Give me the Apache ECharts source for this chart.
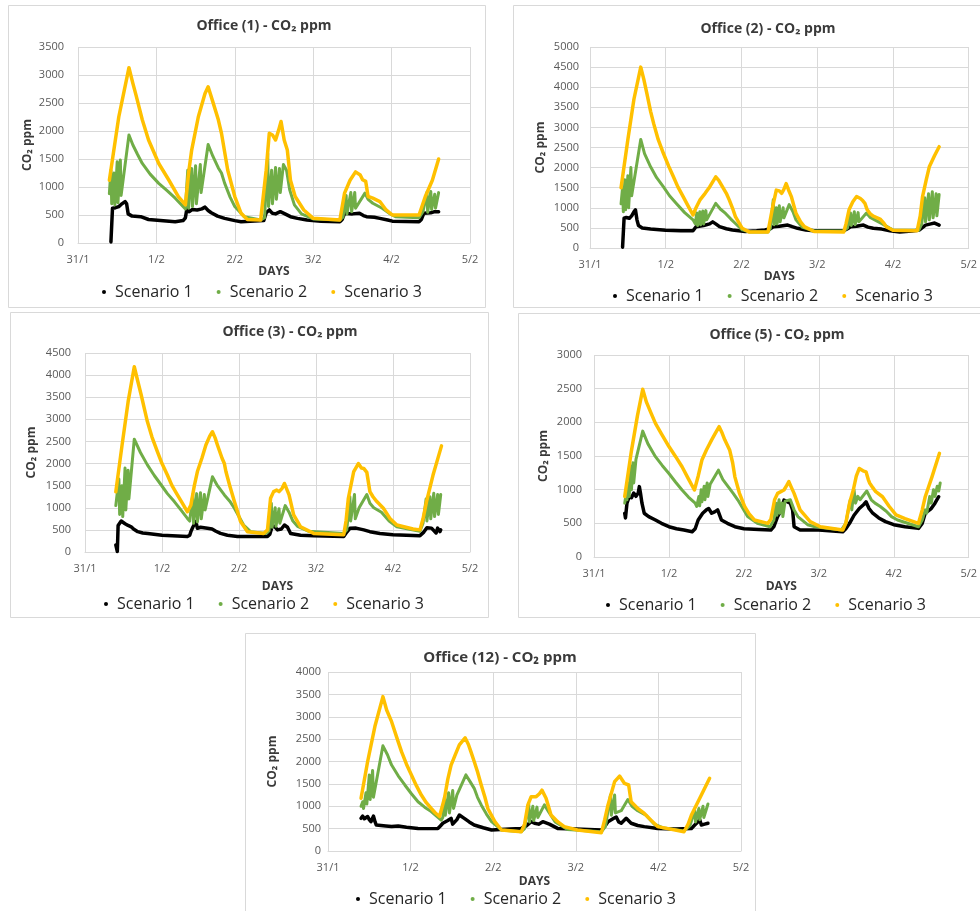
<!DOCTYPE html>
<html>
<head>
<meta charset="utf-8">
<script src="https://cdn.jsdelivr.net/npm/echarts@6/dist/echarts.min.js"></script>
<style>html,body{margin:0;padding:0;background:#fff;}#c{width:980px;height:911px;}</style>
</head>
<body>
<div id="c"></div>
<script>
// ---- data ----
const dayLabels = ['31/1', '1/2', '2/2', '3/2', '4/2', '5/2'];
const seriesNames = ['Scenario 1', 'Scenario 2', 'Scenario 3'];
const panelTitles = ['Office (1) - CO₂ ppm', 'Office (2) - CO₂ ppm', 'Office (3) - CO₂ ppm', 'Office (5) - CO₂ ppm', 'Office (12) - CO₂ ppm'];
const yMaxValues = [3500, 5000, 4500, 3000, 4000];

// Office (1)
const office1_s1 = [[0.42,20],[0.43,30],[0.44,620],[0.48,630],[0.52,650],[0.56,700],[0.60,740],[0.62,700],[0.64,520],[0.69,480],[0.80,470],[0.90,420],[1.05,400],[1.24,380],[1.34,400],[1.37,450],[1.39,620],[1.42,560],[1.46,600],[1.52,590],[1.58,610],[1.62,640],[1.66,580],[1.70,540],[1.78,480],[1.87,440],[2.00,400],[2.08,380],[2.37,400],[2.40,540],[2.44,590],[2.48,530],[2.52,520],[2.58,560],[2.64,520],[2.71,470],[2.80,440],[2.92,410],[3.10,390],[3.34,380],[3.37,420],[3.40,530],[3.50,520],[3.59,530],[3.64,490],[3.68,470],[3.78,460],[3.85,440],[3.95,410],[4.01,390],[4.35,380],[4.38,420],[4.41,530],[4.50,540],[4.55,560],[4.60,560]];
const office1_s2 = [[0.40,880],[0.42,1300],[0.43,700],[0.46,1250],[0.47,680],[0.50,1450],[0.51,720],[0.54,1480],[0.55,850],[0.65,1930],[0.70,1750],[0.76,1580],[0.82,1420],[0.92,1230],[1.03,1065],[1.14,930],[1.24,800],[1.37,610],[1.40,1300],[1.41,620],[1.45,1330],[1.46,650],[1.50,1380],[1.51,700],[1.56,1400],[1.57,900],[1.66,1760],[1.72,1550],[1.79,1340],[1.83,1250],[1.87,1070],[1.94,820],[2.00,650],[2.12,470],[2.33,410],[2.38,450],[2.42,1600],[2.43,650],[2.47,1300],[2.48,700],[2.52,1350],[2.53,780],[2.57,1330],[2.58,900],[2.62,1400],[2.66,1300],[2.70,950],[2.76,680],[2.85,520],[3.00,430],[3.34,410],[3.38,460],[3.42,850],[3.43,520],[3.48,900],[3.49,560],[3.53,900],[3.54,620],[3.66,890],[3.70,780],[3.76,710],[3.88,620],[3.97,530],[4.05,470],[4.35,450],[4.40,560],[4.45,900],[4.46,550],[4.50,920],[4.51,600],[4.55,870],[4.56,620],[4.60,900]];
const office1_s3 = [[0.40,1120],[0.52,2250],[0.65,3130],[0.70,2850],[0.74,2640],[0.82,2200],[0.90,1840],[1.03,1420],[1.16,1120],[1.28,830],[1.37,680],[1.41,1245],[1.45,1660],[1.535,2255],[1.62,2670],[1.66,2790],[1.72,2520],[1.79,2200],[1.83,1960],[1.91,1300],[2.00,830],[2.08,530],[2.16,420],[2.33,410],[2.40,1300],[2.44,1960],[2.48,1930],[2.52,1840],[2.56,2020],[2.59,2170],[2.63,1840],[2.67,1660],[2.71,1120],[2.77,830],[2.88,590],[3.00,440],[3.34,410],[3.40,890],[3.47,1120],[3.54,1270],[3.60,1215],[3.63,1130],[3.67,1100],[3.70,830],[3.76,800],[3.85,740],[3.93,590],[4.01,500],[4.35,500],[4.43,830],[4.52,1120],[4.60,1500]];

// Office (2)
const office2_s1 = [[0.43,20],[0.44,40],[0.45,740],[0.48,760],[0.52,740],[0.55,800],[0.58,900],[0.60,950],[0.62,700],[0.64,560],[0.69,500],[0.80,470],[0.88,460],[1.00,440],[1.20,430],[1.36,430],[1.40,530],[1.50,560],[1.58,600],[1.62,650],[1.66,600],[1.71,530],[1.80,480],[1.88,450],[2.05,410],[2.20,430],[2.31,450],[2.38,480],[2.42,530],[2.50,540],[2.61,570],[2.67,530],[2.74,490],[2.85,450],[2.96,430],[3.35,430],[3.40,480],[3.44,530],[3.52,540],[3.61,570],[3.67,520],[3.74,490],[3.85,470],[3.96,430],[4.09,400],[4.25,420],[4.35,450],[4.43,570],[4.50,600],[4.55,620],[4.61,570]];
const office2_s2 = [[0.41,1100],[0.43,1500],[0.44,900],[0.46,1700],[0.47,950],[0.50,1800],[0.51,1000],[0.54,2000],[0.55,1300],[0.67,2700],[0.72,2350],[0.80,2020],[0.88,1750],[0.97,1520],[1.05,1300],[1.14,1110],[1.25,880],[1.36,700],[1.39,600],[1.41,870],[1.42,560],[1.45,900],[1.46,580],[1.49,920],[1.50,600],[1.53,930],[1.54,700],[1.66,1110],[1.72,970],[1.79,860],[1.86,720],[1.92,610],[2.01,450],[2.10,400],[2.35,400],[2.38,480],[2.42,1200],[2.43,580],[2.46,1000],[2.47,600],[2.50,1050],[2.51,650],[2.55,1000],[2.56,750],[2.63,1080],[2.68,900],[2.72,700],[2.80,520],[2.95,430],[3.35,420],[3.40,500],[3.44,870],[3.45,560],[3.49,900],[3.50,580],[3.54,880],[3.55,650],[3.65,870],[3.70,760],[3.76,700],[3.86,600],[3.95,500],[4.00,450],[4.34,440],[4.38,600],[4.42,1250],[4.43,650],[4.47,1350],[4.48,700],[4.52,1400],[4.53,750],[4.57,1350],[4.58,800],[4.61,1330]];
const office2_s3 = [[0.41,1500],[0.50,2700],[0.58,3700],[0.67,4500],[0.71,4200],[0.75,3850],[0.80,3400],[0.84,3100],[0.90,2700],[0.97,2350],[1.04,2030],[1.10,1780],[1.16,1520],[1.23,1280],[1.30,1030],[1.36,820],[1.40,1000],[1.45,1190],[1.52,1360],[1.58,1520],[1.66,1770],[1.70,1680],[1.75,1520],[1.80,1360],[1.84,1190],[1.88,1000],[1.92,780],[2.01,490],[2.10,400],[2.35,400],[2.39,800],[2.42,1100],[2.46,1440],[2.50,1420],[2.53,1360],[2.56,1460],[2.59,1600],[2.62,1450],[2.66,1270],[2.72,860],[2.78,650],[2.83,530],[2.96,410],[3.35,400],[3.38,600],[3.42,950],[3.47,1150],[3.52,1280],[3.57,1230],[3.60,1180],[3.63,1110],[3.66,950],[3.70,850],[3.74,790],[3.83,720],[3.88,620],[3.91,530],[4.00,440],[4.32,430],[4.36,800],[4.39,1270],[4.44,1700],[4.48,2020],[4.55,2300],[4.61,2520]];

// Office (3)
const office3_s1 = [[0.40,160],[0.42,10],[0.43,600],[0.45,650],[0.47,700],[0.49,690],[0.52,640],[0.56,600],[0.60,570],[0.63,520],[0.685,460],[0.75,430],[0.815,420],[1.00,380],[1.20,360],[1.33,350],[1.36,380],[1.375,460],[1.40,560],[1.42,600],[1.44,690],[1.46,535],[1.50,560],[1.59,535],[1.65,520],[1.70,470],[1.76,420],[1.85,380],[1.98,350],[2.37,350],[2.40,400],[2.43,570],[2.46,580],[2.50,500],[2.55,520],[2.59,610],[2.63,560],[2.67,420],[2.80,380],[2.97,370],[3.36,350],[3.40,450],[3.44,535],[3.52,540],[3.62,500],[3.70,460],[3.83,420],[4.00,390],[4.35,370],[4.40,450],[4.44,550],[4.50,540],[4.52,520],[4.56,430],[4.58,540],[4.61,460],[4.62,500]];
const office3_s2 = [[0.40,1050],[0.44,1650],[0.45,850],[0.48,1500],[0.49,800],[0.52,1900],[0.53,950],[0.56,1850],[0.57,1200],[0.64,2550],[0.72,2250],[0.81,1970],[0.90,1730],[0.99,1515],[1.07,1320],[1.16,1140],[1.25,940],[1.33,760],[1.36,700],[1.40,1300],[1.41,650],[1.45,1320],[1.46,680],[1.50,1340],[1.51,750],[1.55,1300],[1.56,950],[1.655,1700],[1.72,1500],[1.81,1290],[1.88,1150],[1.94,990],[2.06,610],[2.15,460],[2.35,420],[2.39,480],[2.42,1100],[2.43,560],[2.47,1000],[2.48,580],[2.52,980],[2.53,650],[2.60,1050],[2.65,900],[2.70,700],[2.76,580],[2.90,470],[3.36,420],[3.40,500],[3.44,1250],[3.45,700],[3.50,1300],[3.51,750],[3.56,1000],[3.66,1300],[3.70,1100],[3.75,1000],[3.85,900],[3.95,700],[4.05,570],[4.20,520],[4.35,470],[4.39,650],[4.43,1200],[4.44,700],[4.48,1250],[4.49,750],[4.53,1330],[4.54,800],[4.58,1300],[4.59,850],[4.62,1300]];
const office3_s3 = [[0.40,1360],[0.48,2400],[0.56,3400],[0.64,4190],[0.68,3900],[0.73,3550],[0.77,3250],[0.81,2950],[0.87,2600],[0.94,2270],[1.00,2000],[1.07,1740],[1.13,1500],[1.20,1290],[1.27,1090],[1.33,910],[1.375,1060],[1.42,1500],[1.46,1820],[1.52,2130],[1.57,2420],[1.62,2620],[1.655,2720],[1.69,2580],[1.72,2420],[1.78,2120],[1.81,2000],[1.83,1820],[1.88,1500],[1.94,1140],[2.02,690],[2.11,460],[2.32,420],[2.37,500],[2.41,1215],[2.45,1365],[2.49,1400],[2.52,1365],[2.56,1440],[2.59,1550],[2.62,1420],[2.65,1290],[2.71,840],[2.80,570],[2.97,420],[3.36,390],[3.39,700],[3.42,1215],[3.49,1820],[3.55,2000],[3.59,1900],[3.62,1890],[3.66,1800],[3.68,1780],[3.70,1365],[3.74,1250],[3.79,1140],[3.875,990],[3.96,760],[4.05,610],[4.26,520],[4.35,500],[4.39,750],[4.435,1140],[4.52,1740],[4.58,2100],[4.63,2400]];

// Office (5)
const office5_s1 = [[0.41,650],[0.42,580],[0.44,800],[0.47,895],[0.50,880],[0.53,950],[0.56,900],[0.59,950],[0.605,1045],[0.62,950],[0.64,800],[0.67,650],[0.73,600],[0.82,550],[0.90,500],[1.00,450],[1.10,420],[1.20,400],[1.31,375],[1.35,420],[1.39,550],[1.45,650],[1.50,700],[1.53,720],[1.57,650],[1.61,670],[1.65,700],[1.70,550],[1.78,500],[1.88,450],[2.00,420],[2.20,410],[2.36,400],[2.40,450],[2.45,600],[2.50,700],[2.535,845],[2.58,820],[2.62,800],[2.65,700],[2.67,450],[2.75,400],[3.00,400],[3.32,375],[3.36,420],[3.41,500],[3.47,620],[3.54,720],[3.60,780],[3.63,820],[3.67,720],[3.72,650],[3.80,580],[3.89,525],[4.00,480],[4.15,450],[4.33,425],[4.38,500],[4.42,650],[4.50,720],[4.55,800],[4.60,895]];
const office5_s2 = [[0.41,800],[0.43,950],[0.44,850],[0.46,1100],[0.47,900],[0.49,1350],[0.50,1000],[0.52,1400],[0.53,1100],[0.56,1450],[0.65,1870],[0.72,1680],[0.82,1490],[0.91,1360],[1.00,1240],[1.09,1110],[1.175,995],[1.26,890],[1.35,800],[1.37,750],[1.40,900],[1.41,760],[1.43,1000],[1.44,820],[1.47,1050],[1.48,850],[1.51,1100],[1.52,900],[1.55,1080],[1.66,1290],[1.72,1150],[1.79,1045],[1.86,940],[1.92,845],[2.05,600],[2.18,500],[2.35,450],[2.40,550],[2.43,800],[2.44,620],[2.47,850],[2.48,650],[2.51,800],[2.52,600],[2.55,830],[2.62,850],[2.67,700],[2.72,600],[2.85,480],[2.95,450],[3.30,400],[3.36,500],[3.42,850],[3.44,700],[3.47,1000],[3.49,800],[3.52,900],[3.55,850],[3.64,980],[3.70,850],[3.75,800],[3.82,750],[3.90,680],[3.97,600],[4.05,550],[4.33,450],[4.38,550],[4.42,700],[4.44,650],[4.48,900],[4.50,800],[4.53,1000],[4.55,900],[4.58,1050],[4.60,980],[4.62,1100]];
const office5_s3 = [[0.41,900],[0.50,1580],[0.58,2100],[0.65,2490],[0.70,2300],[0.76,2140],[0.82,1985],[0.90,1830],[1.00,1640],[1.09,1490],[1.175,1340],[1.26,1160],[1.34,995],[1.39,1200],[1.44,1440],[1.50,1590],[1.57,1740],[1.62,1840],[1.67,1935],[1.71,1840],[1.745,1740],[1.78,1660],[1.81,1590],[1.85,1400],[1.88,1190],[1.94,950],[2.01,750],[2.07,640],[2.14,550],[2.32,500],[2.36,560],[2.41,850],[2.45,945],[2.535,995],[2.57,1060],[2.60,1120],[2.635,1030],[2.67,945],[2.75,700],[2.885,525],[3.02,450],[3.32,400],[3.36,500],[3.41,800],[3.46,995],[3.50,1200],[3.54,1315],[3.59,1280],[3.63,1265],[3.66,1150],[3.68,1095],[3.72,1030],[3.76,970],[3.85,895],[3.94,750],[4.03,625],[4.15,570],[4.33,500],[4.38,700],[4.42,895],[4.51,1190],[4.61,1540]];

// Office (12)
const office12_s1 = [[0.40,730],[0.42,780],[0.44,720],[0.46,760],[0.48,770],[0.50,700],[0.52,655],[0.55,780],[0.57,650],[0.585,580],[0.70,560],[0.77,545],[0.85,560],[0.95,530],[1.09,505],[1.20,500],[1.33,505],[1.36,560],[1.39,620],[1.45,680],[1.49,730],[1.51,600],[1.53,580],[1.56,700],[1.59,805],[1.65,730],[1.71,650],[1.77,580],[1.88,520],[1.98,470],[2.20,490],[2.34,505],[2.40,560],[2.46,655],[2.50,620],[2.55,600],[2.60,655],[2.68,600],[2.78,505],[3.00,490],[3.31,470],[3.35,550],[3.39,655],[3.46,730],[3.49,760],[3.52,650],[3.55,620],[3.61,730],[3.67,620],[3.75,570],[3.83,545],[3.99,505],[4.20,490],[4.40,505],[4.44,580],[4.48,655],[4.50,700],[4.52,580],[4.56,600],[4.60,620]];
const office12_s2 = [[0.40,1000],[0.42,1100],[0.43,950],[0.46,1300],[0.47,1050],[0.50,1700],[0.51,1150],[0.54,1800],[0.55,1200],[0.665,2350],[0.72,2150],[0.77,1920],[0.85,1680],[0.93,1475],[1.01,1280],[1.09,1100],[1.17,980],[1.25,880],[1.37,690],[1.39,750],[1.41,1200],[1.42,800],[1.46,1300],[1.47,850],[1.51,1350],[1.52,950],[1.56,1250],[1.67,1700],[1.72,1550],[1.77,1400],[1.81,1200],[1.855,1030],[1.92,820],[1.98,655],[2.10,470],[2.34,430],[2.38,500],[2.43,1050],[2.44,650],[2.48,1000],[2.49,680],[2.53,980],[2.54,750],[2.62,1030],[2.67,880],[2.75,650],[2.90,480],[3.31,430],[3.36,550],[3.42,1250],[3.43,800],[3.47,1250],[3.48,850],[3.55,900],[3.63,1150],[3.68,1000],[3.75,900],[3.85,800],[3.95,600],[4.05,520],[4.31,450],[4.38,560],[4.44,900],[4.45,650],[4.49,950],[4.50,700],[4.54,1000],[4.55,750],[4.60,1050]];
const office12_s3 = [[0.40,1180],[0.48,2000],[0.57,2800],[0.665,3450],[0.71,3150],[0.77,2890],[0.83,2550],[0.89,2220],[0.95,1940],[1.01,1700],[1.07,1460],[1.13,1250],[1.19,1080],[1.25,950],[1.30,850],[1.35,770],[1.41,1180],[1.45,1600],[1.49,1920],[1.54,2150],[1.59,2370],[1.66,2530],[1.70,2380],[1.73,2220],[1.77,2000],[1.81,1770],[1.855,1475],[1.90,1200],[1.935,950],[2.02,655],[2.10,470],[2.34,430],[2.38,600],[2.42,1030],[2.46,1215],[2.52,1215],[2.56,1280],[2.59,1360],[2.64,1180],[2.70,805],[2.78,655],[2.86,545],[3.02,470],[3.31,410],[3.35,700],[3.39,1030],[3.47,1550],[3.53,1675],[3.59,1510],[3.64,1475],[3.67,1100],[3.75,950],[3.83,840],[3.91,690],[3.99,545],[4.31,430],[4.36,600],[4.40,805],[4.52,1250],[4.62,1625]];

const panelSeries = [
  [office1_s1, office1_s2, office1_s3],
  [office2_s1, office2_s2, office2_s3],
  [office3_s1, office3_s2, office3_s3],
  [office5_s1, office5_s2, office5_s3],
  [office12_s1, office12_s2, office12_s3]
];

// ---- layout & style ----
const colors = ['#000000', '#70AD47', '#FFC000'];
const lineWidths = [3.5, 3, 3.5];
const FONT = '"Open Sans", "Noto Sans", sans-serif';
const layouts = [
  {grid:{left:78,top:47,width:392,height:196}, title:{x:264,y:19,size:14}, legend:{x:102,y:284}, yNameGap:44, xNameGap:23, yLabelMargin:14, box:[8,5,477,302]},
  {grid:{left:590,top:47,width:384,height:201}, title:{x:768,y:22,size:14}, legend:{x:613,y:288}, yNameGap:43, xNameGap:23, yLabelMargin:11, box:[513,5,480,302]},
  {grid:{left:85,top:353,width:385,height:199}, title:{x:290,y:325,size:14}, legend:{x:104,y:596}, yNameGap:47, xNameGap:29, yLabelMargin:14, box:[10,312,478,305]},
  {grid:{left:594,top:355,width:380,height:202}, title:{x:777,y:328,size:14}, legend:{x:606,y:597}, yNameGap:44, xNameGap:24, yLabelMargin:12, box:[518,313,475,304]},
  {grid:{left:328,top:672,width:413,height:179}, title:{x:500,y:650,size:15}, legend:{x:356,y:891}, yNameGap:49, xNameGap:25, yLabelMargin:7, box:[245,633,510,290]}
];

const option = {
  animation: false,
  backgroundColor: '#ffffff',
  textStyle: { fontFamily: FONT },
  title: [], grid: [], xAxis: [], yAxis: [], legend: [], series: [], graphic: []
};

layouts.forEach((L, i) => {
  option.graphic.push({
    type: 'rect', silent: true, z: -10,
    shape: { x: L.box[0] + 0.5, y: L.box[1] + 0.5, width: L.box[2], height: L.box[3] },
    style: { fill: '#ffffff', stroke: '#d9d9d9', lineWidth: 1 }
  });
  option.title.push({
    text: panelTitles[i], left: L.title.x, top: L.title.y, textAlign: 'center', padding: 0,
    textStyle: { fontFamily: FONT, fontSize: L.title.size, fontWeight: 'bold', color: '#3a3a3a' }
  });
  option.grid.push(Object.assign({ containLabel: false }, L.grid));
  option.xAxis.push({
    type: 'value', gridIndex: i, min: 0, max: 5, interval: 1,
    name: 'DAYS', nameLocation: 'middle', nameGap: L.xNameGap,
    nameTextStyle: { fontFamily: FONT, fontSize: 12, fontWeight: 'bold', color: '#3a3a3a' },
    axisLine: { show: true, lineStyle: { color: '#d9d9d9', width: 1 } },
    axisTick: { show: false },
    axisLabel: { margin: 11, fontSize: 11, color: '#595959', fontFamily: FONT,
      formatter: v => dayLabels[Math.round(v)] },
    splitLine: { show: true, lineStyle: { color: '#d9d9d9', width: 1 } }
  });
  option.yAxis.push({
    type: 'value', gridIndex: i, min: 0, max: yMaxValues[i], interval: 500,
    name: 'CO₂ ppm', nameLocation: 'middle', nameGap: L.yNameGap,
    nameTextStyle: { fontFamily: FONT, fontSize: 12, fontWeight: 'bold', color: '#3a3a3a' },
    axisLine: { show: false }, axisTick: { show: false },
    axisLabel: { margin: L.yLabelMargin, fontSize: 11, color: '#595959', fontFamily: FONT,
      formatter: v => String(v) },
    splitLine: { show: true, lineStyle: { color: '#d9d9d9', width: 1 } }
  });
  option.legend.push({
    left: L.legend.x, top: L.legend.y, padding: 0, orient: 'horizontal',
    icon: 'circle', itemWidth: 4, itemHeight: 4, itemGap: 24,
    selectedMode: false,
    data: seriesNames.slice(),
    textStyle: { fontFamily: FONT, fontSize: 16, color: '#262626', padding: [0, 0, 0, 4] }
  });
  panelSeries[i].forEach((data, k) => {
    option.series.push({
      name: seriesNames[k], type: 'line', xAxisIndex: i, yAxisIndex: i,
      data: data, showSymbol: false, symbol: 'circle', smooth: false,
      color: colors[k],
      lineStyle: { color: colors[k], width: lineWidths[k], join: 'round', cap: 'round' },
      z: 2 + k
    });
  });
});

const chart = echarts.init(document.getElementById('c'), null, { renderer: 'canvas' });
chart.setOption(option);
</script>
</body>
</html>
